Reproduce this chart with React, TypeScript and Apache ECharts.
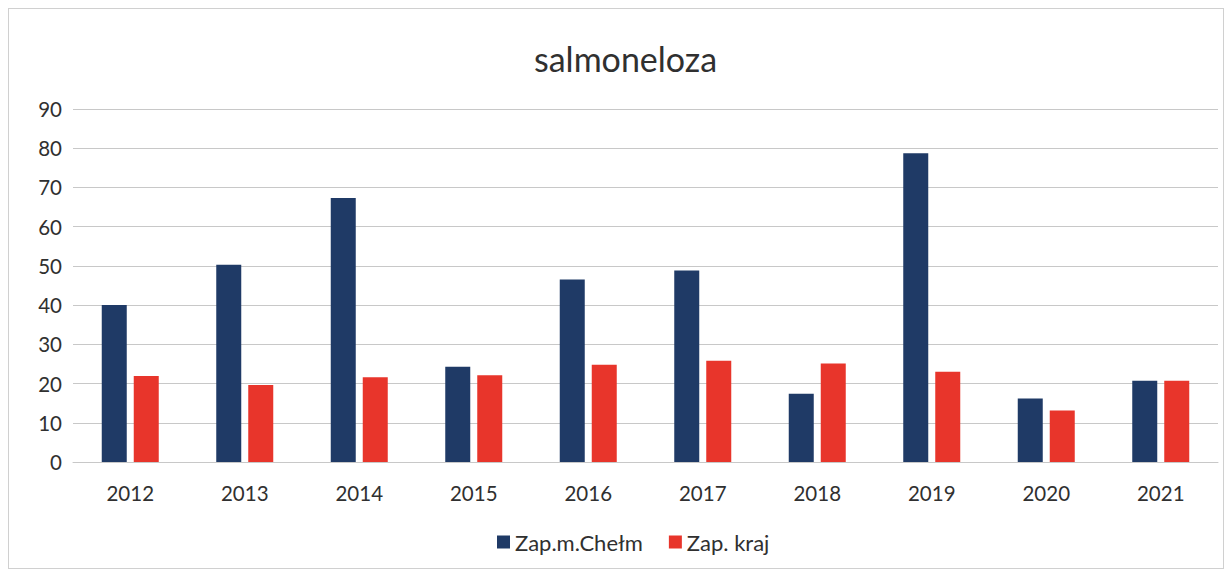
import React, { useEffect, useRef } from "react";
import * as echarts from "echarts";

const categories = ["2012", "2013", "2014", "2015", "2016", "2017", "2018", "2019", "2020", "2021"];
const chelm = [40, 50.3, 67.3, 24.3, 46.5, 48.8, 17.4, 78.7, 16.2, 20.7];
const kraj = [21.9, 19.6, 21.6, 22.1, 24.8, 25.8, 25.1, 23.0, 13.1, 20.7];
const yTicks = [0, 10, 20, 30, 40, 50, 60, 70, 80, 90];

const FONT = "Lato, 'Open Sans', sans-serif";

export default function App() {
  const ref = useRef<HTMLDivElement>(null);
  useEffect(() => {
    if (!ref.current) return;
    const chart = echarts.init(ref.current, undefined, { renderer: "svg" });
    chart.setOption({
      animation: false,
      backgroundColor: "#ffffff",
      title: {
        text: "salmoneloza",
        left: 520,
        top: 27,
        textStyle: { fontFamily: FONT, fontSize: 34, fontWeight: "normal", color: "#303030" },
      },
      grid: { left: 64, right: 5, top: 100, bottom: 106, containLabel: false },
      legend: {
        bottom: 10,
        left: 483,
        icon: "rect",
        itemWidth: 13,
        itemHeight: 13,
        itemGap: 26,
        textStyle: { fontFamily: FONT, fontSize: 22, color: "#303030" },
        data: ["Zap.m.Chełm", "Zap. kraj"],
      },
      xAxis: {
        type: "category",
        data: categories,
        axisLine: { show: true, lineStyle: { color: "#c8c8c8", width: 1 } },
        axisTick: { show: false },
        axisLabel: { fontFamily: FONT, fontSize: 20.5, color: "#303030", margin: 20 },
      },
      yAxis: {
        type: "value",
        min: yTicks[0],
        max: yTicks[yTicks.length - 1],
        interval: 10,
        axisLine: { show: false },
        axisTick: { show: false },
        splitLine: { lineStyle: { color: "#c8c8c8", width: 1 } },
        axisLabel: { fontFamily: FONT, fontSize: 20.5, color: "#303030", margin: 11 },
      },
      series: [
        {
          name: "Zap.m.Chełm",
          type: "bar",
          data: chelm,
          barWidth: 25,
          barGap: "28%",
          itemStyle: { color: "#1f3a66" },
        },
        {
          name: "Zap. kraj",
          type: "bar",
          data: kraj,
          barWidth: 25,
          barGap: "28%",
          itemStyle: { color: "#e8352b" },
        },
      ],
    });
    return () => chart.dispose();
  }, []);
  return (
    <div
      style={{
        width: 1216,
        height: 561,
        boxSizing: "border-box",
        border: "1px solid #d0d0d0",
        background: "#fff",
      }}
    >
      <div ref={ref} style={{ width: 1214, height: 559 }} />
    </div>
  );
}
